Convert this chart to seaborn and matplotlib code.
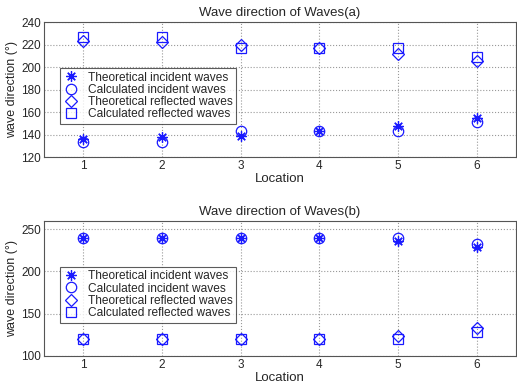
import pandas as pd
import matplotlib
matplotlib.use("Agg")
import matplotlib.pyplot as plt
import seaborn as sns

location = [1, 2, 3, 4, 5, 6]

# Waves (a)
a_theo_inc = [136, 138, 139, 143, 148, 155]
a_calc_inc = [133, 133, 143, 143, 143, 151]
a_theo_ref = [223, 222, 220, 217, 212, 205]
a_calc_ref = [227, 227, 217, 217, 217, 209]

# Waves (b)
b_theo_inc = [240, 240, 240, 240, 236, 229]
b_calc_inc = [240, 240, 240, 240, 240, 232]
b_theo_ref = [120, 120, 120, 120, 124, 133]
b_calc_ref = [120, 120, 120, 120, 120, 128]

labels = ["Theoretical incident waves", "Calculated incident waves",
          "Theoretical reflected waves", "Calculated reflected waves"]
markers = [(8, 2, 0), "o", "D", "s"]
sizes = [7.5, 7.5, 6.5, 6.5]

sns.set_style("whitegrid", {"grid.linestyle": ":", "grid.color": "#999999",
                            "axes.edgecolor": "#555555", "xtick.direction": "in",
                            "ytick.direction": "in"})
plt.rcParams['font.family'] = ['Liberation Sans', 'DejaVu Sans']

fig = plt.figure(figsize=(5.17, 3.86), dpi=100)
ax1 = fig.add_axes([0.085, 0.593, 0.913, 0.350])
ax2 = fig.add_axes([0.085, 0.078, 0.913, 0.350])

panels = [
    (ax1, [a_theo_inc, a_calc_inc, a_theo_ref, a_calc_ref], "Wave direction of Waves(a)",
     (120, 240), [120, 140, 160, 180, 200, 220, 240]),
    (ax2, [b_theo_inc, b_calc_inc, b_theo_ref, b_calc_ref], "Wave direction of Waves(b)",
     (100, 260), [100, 150, 200, 250]),
]

for ax, series, title, ylim, yticks in panels:
    for vals, lab, mk, ms in zip(series, labels, markers, sizes):
        df = pd.DataFrame({"Location": location, "dir": vals})
        sns.lineplot(data=df, x="Location", y="dir", ax=ax, linestyle="",
                     marker=mk, markersize=ms, markerfacecolor="none",
                     markeredgecolor="#1a1aff", markeredgewidth=0.9,
                     color="#1a1aff", label=lab)
    ax.set_xlim(0.5, 6.5)
    ax.set_ylim(*ylim)
    ax.set_xticks(location)
    ax.set_yticks(yticks)
    ax.tick_params(labelsize=8.5, length=3, pad=2)
    ax.set_title(title, fontsize=9.5, pad=4)
    ax.set_xlabel("Location", fontsize=9.5, labelpad=1)
    ax.set_ylabel("wave direction (°)", fontsize=9, labelpad=2)
    for sp in ax.spines.values():
        sp.set_linewidth(0.8)
    leg = ax.legend(loc="upper left", bbox_to_anchor=(0.035, 0.66), fontsize=8.6,
                    frameon=True, fancybox=False, edgecolor="#333333",
                    borderpad=0.3, labelspacing=0.02, handletextpad=0.8,
                    handlelength=1.2, borderaxespad=0)
    leg.get_frame().set_linewidth(0.8)

fig.savefig("out.png", dpi=100)
